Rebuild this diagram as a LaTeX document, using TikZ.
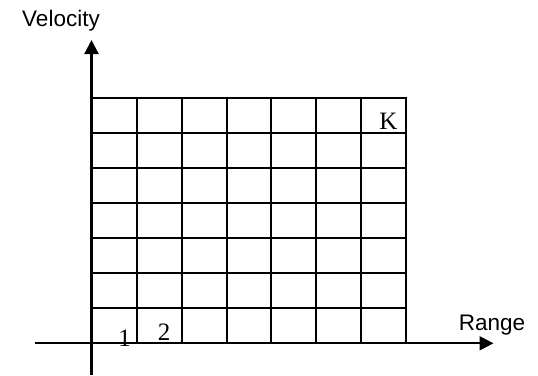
\documentclass[tikz,border=0pt]{standalone}
\usepackage{fontspec}
\setmainfont{Liberation Serif}
\newfontfamily\labelfont{Liberation Sans}
\usetikzlibrary{arrows.meta}
\begin{document}
\begin{tikzpicture}[x=1pt,y=-1pt,
  gridline/.style={line width=2pt,line cap=rect},
  axisline/.style={line width=2.2pt,-{Triangle[length=14pt,width=14pt]}},
  axislabel/.style={font=\labelfont\fontsize{22.5}{24}\selectfont,anchor=base,inner sep=0pt},
  celllabel/.style={font=\fontsize{25}{27}\selectfont,anchor=base,inner sep=0pt}]
\useasboundingbox (0,0) rectangle (538,375);
% grid
\foreach \i in {0,...,7} {
  \draw[gridline] ({92+\i*44.86},98) -- ({92+\i*44.86},343.3);
  \draw[gridline] (92,{98+\i*35.04}) -- (406,{98+\i*35.04});
}
% axes
\coordinate (xs) at (35,343.3);
\coordinate (xe) at (493.5,343.3);
\coordinate (ys) at (91.5,375);
\coordinate (ye) at (91.5,40);
\draw[axisline] (xs) -- (xe);
\draw[axisline] (ys) -- (ye);
% labels
\node[axislabel] (vel) at (61,26.7) {Velocity};
\node[axislabel] (rng) at (492,330.7) {Range};
\node[celllabel] (one) at (124.5,346) {1};
\node[celllabel] (two) at (164,340) {2};
\node[celllabel] (k) at (388.5,129.3) {K};
\end{tikzpicture}
\end{document}
